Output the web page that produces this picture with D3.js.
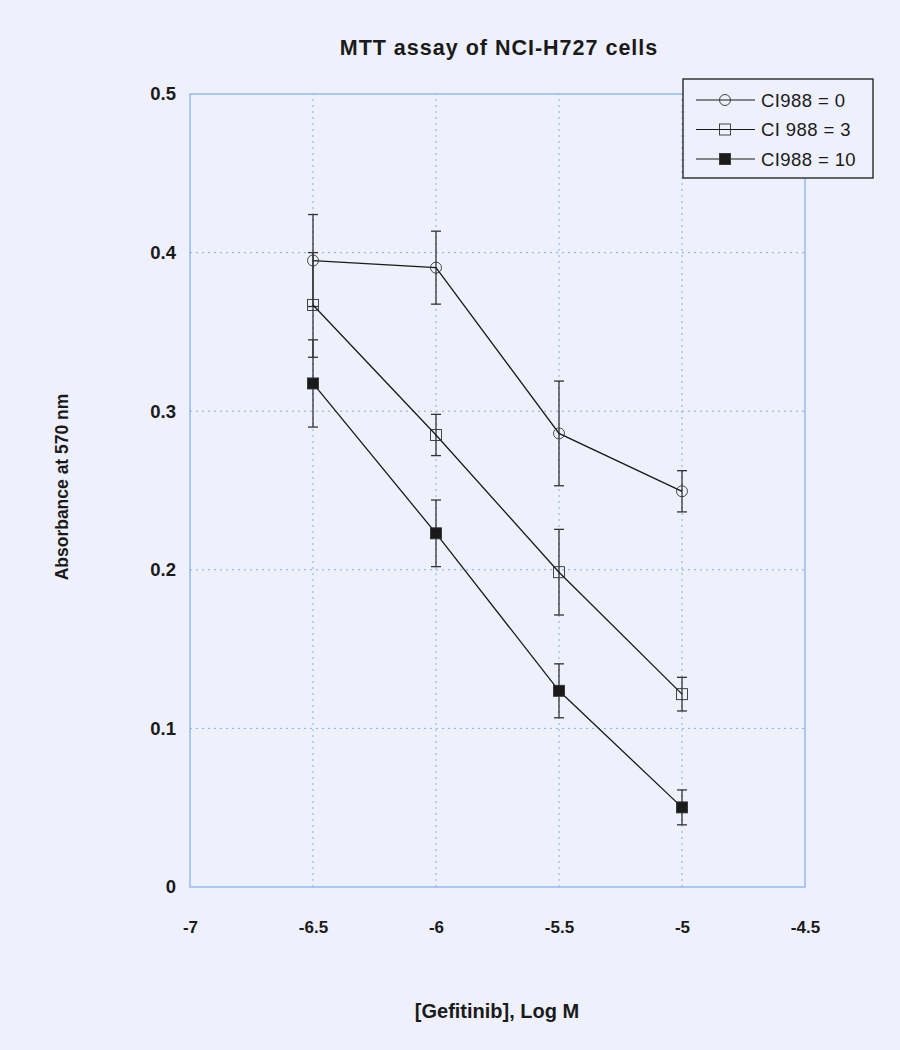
<!DOCTYPE html>
<html>
<head>
<meta charset="utf-8">
<script src="https://cdn.jsdelivr.net/npm/d3@7"></script>
<style>
  body { margin: 0; background: #eef0fb; }
  svg { display: block; font-family: Arial, "Liberation Sans", sans-serif; }
</style>
</head>
<body>
<div id="chart"></div>
<script>
var width = 900,
    height = 1050;
var margin = {top: 94, left: 190, bottom: 163, right: 95};

// data
var doses = [-6.5, -6, -5.5, -5];
var seriesNames = ["CI988 = 0", "CI 988 = 3", "CI988 = 10"];
var absCI0 = [0.395, 0.3905, 0.286, 0.2495];
var errCI0 = [0.029, 0.023, 0.033, 0.013];
var absCI3 = [0.367, 0.285, 0.1985, 0.1216];
var errCI3 = [0.033, 0.013, 0.027, 0.0106];
var absCI10 = [0.3175, 0.223, 0.1237, 0.0502];
var errCI10 = [0.0275, 0.021, 0.017, 0.011];
var xTicks = [-7, -6.5, -6, -5.5, -5, -4.5];
var yTicks = [0, 0.1, 0.2, 0.3, 0.4, 0.5];

var series = [
  {name: seriesNames[0], values: absCI0, errs: errCI0, symbol: "circle"},
  {name: seriesNames[1], values: absCI3, errs: errCI3, symbol: "square"},
  {name: seriesNames[2], values: absCI10, errs: errCI10, symbol: "filled"}
];

var svg = d3.select("#chart").append("svg")
  .attr("width", width)
  .attr("height", height);

svg.append("rect").attr("width", width).attr("height", height).attr("fill", "#eef0fb");

var x = d3.scaleLinear().domain([-7, -4.5]).range([margin.left, width - margin.right]);
var y = d3.scaleLinear().domain([0, 0.5]).range([height - margin.bottom, margin.top]);

var gridColor = "#7eaef0";

// grid
svg.append("g").selectAll("line")
  .data(yTicks.slice(1, -1))
  .enter().append("line")
  .attr("x1", x(-7)).attr("x2", x(-4.5))
  .attr("y1", d => y(d)).attr("y2", d => y(d))
  .attr("stroke", gridColor)
  .attr("stroke-width", 1)
  .attr("stroke-dasharray", "2,4");

svg.append("g").selectAll("line")
  .data(xTicks.slice(1, -1))
  .enter().append("line")
  .attr("x1", d => x(d)).attr("x2", d => x(d))
  .attr("y1", y(0)).attr("y2", y(0.5))
  .attr("stroke", gridColor)
  .attr("stroke-width", 1)
  .attr("stroke-dasharray", "2,4");

// frame
svg.append("rect")
  .attr("x", x(-7)).attr("y", y(0.5))
  .attr("width", x(-4.5) - x(-7)).attr("height", y(0) - y(0.5))
  .attr("fill", "none")
  .attr("stroke", "#86b2f0")
  .attr("stroke-width", 1.3);

// axes (labels only), plain hyphen for minus like the original
var fmt = d => String(d);
var xAxis = d3.axisBottom(x).tickValues(xTicks).tickSize(0).tickPadding(34).tickFormat(fmt);
svg.append("g")
  .attr("transform", "translate(0," + y(0) + ")")
  .call(xAxis)
  .call(g => g.select(".domain").remove())
  .selectAll("text")
  .attr("font-size", 17).attr("font-weight", "bold").attr("fill", "#1a1a1a")
  .attr("font-family", "Arial, 'Liberation Sans', sans-serif");

var yAxis = d3.axisLeft(y).tickValues(yTicks).tickSize(0).tickPadding(14).tickFormat(fmt);
svg.append("g")
  .attr("transform", "translate(" + x(-7) + ",0)")
  .call(yAxis)
  .call(g => g.select(".domain").remove())
  .selectAll("text")
  .attr("font-size", 18.5).attr("font-weight", "bold").attr("fill", "#1a1a1a")
  .attr("font-family", "Arial, 'Liberation Sans', sans-serif");

// titles
svg.append("text")
  .attr("x", 499).attr("y", 55)
  .attr("text-anchor", "middle")
  .attr("font-size", 21.5).attr("font-weight", "bold").attr("fill", "#1a1a1a")
  .attr("letter-spacing", 1)
  .text("MTT assay of NCI-H727 cells");

svg.append("text")
  .attr("x", 497).attr("y", 1018)
  .attr("text-anchor", "middle")
  .attr("font-size", 20).attr("font-weight", "bold").attr("fill", "#1a1a1a")
  .text("[Gefitinib], Log M");

svg.append("text")
  .attr("transform", "translate(68,487) rotate(-90)")
  .attr("text-anchor", "middle")
  .attr("font-size", 17.5).attr("font-weight", "bold").attr("fill", "#1a1a1a")
  .text("Absorbance at 570 nm");

var line = d3.line()
  .x(d => x(d.dose))
  .y(d => y(d.value));

function drawSymbol(g, type, cx, cy) {
  if (type === "circle") {
    g.append("circle").attr("cx", cx).attr("cy", cy).attr("r", 5.5)
      .attr("fill", "none").attr("stroke", "#333").attr("stroke-width", 0.9);
  } else {
    g.append("rect").attr("x", cx - 5.5).attr("y", cy - 5.5)
      .attr("width", 11).attr("height", 11)
      .attr("fill", type === "filled" ? "#1a1a1a" : "none")
      .attr("stroke", "#333").attr("stroke-width", 0.9);
  }
}

series.forEach(function(s) {
  var pts = doses.map((d, i) => ({dose: d, value: s.values[i], err: s.errs[i]}));
  var g = svg.append("g");

  // error bars
  pts.forEach(function(p) {
    var cx = x(p.dose);
    g.append("line").attr("x1", cx).attr("x2", cx)
      .attr("y1", y(p.value + p.err)).attr("y2", y(p.value - p.err))
      .attr("stroke", "#333").attr("stroke-width", 1.3);
    [p.value + p.err, p.value - p.err].forEach(function(v) {
      g.append("line").attr("x1", cx - 5).attr("x2", cx + 5)
        .attr("y1", y(v)).attr("y2", y(v))
        .attr("stroke", "#333").attr("stroke-width", 1.3);
    });
  });

  g.append("path").datum(pts)
    .attr("d", line)
    .attr("fill", "none")
    .attr("stroke", "#1a1a1a")
    .attr("stroke-width", 1.3);

  pts.forEach(p => drawSymbol(g, s.symbol, x(p.dose), y(p.value)));
});

// legend
var legend = svg.append("g").attr("transform", "translate(683,79)");
legend.append("rect")
  .attr("width", 190).attr("height", 99)
  .attr("fill", "#eef0fb")
  .attr("stroke", "#1a1a1a").attr("stroke-width", 1.3);

series.forEach(function(s, i) {
  var ly = 21 + i * 29.5;
  legend.append("line").attr("x1", 13).attr("x2", 72).attr("y1", ly).attr("y2", ly)
    .attr("stroke", "#1a1a1a").attr("stroke-width", 1.1);
  drawSymbol(legend, s.symbol, 42, ly);
  legend.append("text")
    .attr("x", 78).attr("y", ly + 6.5)
    .attr("font-size", 18.5).attr("fill", "#1a1a1a")
    .attr("letter-spacing", 0.4)
    .text(s.name);
});
</script>
</body>
</html>
